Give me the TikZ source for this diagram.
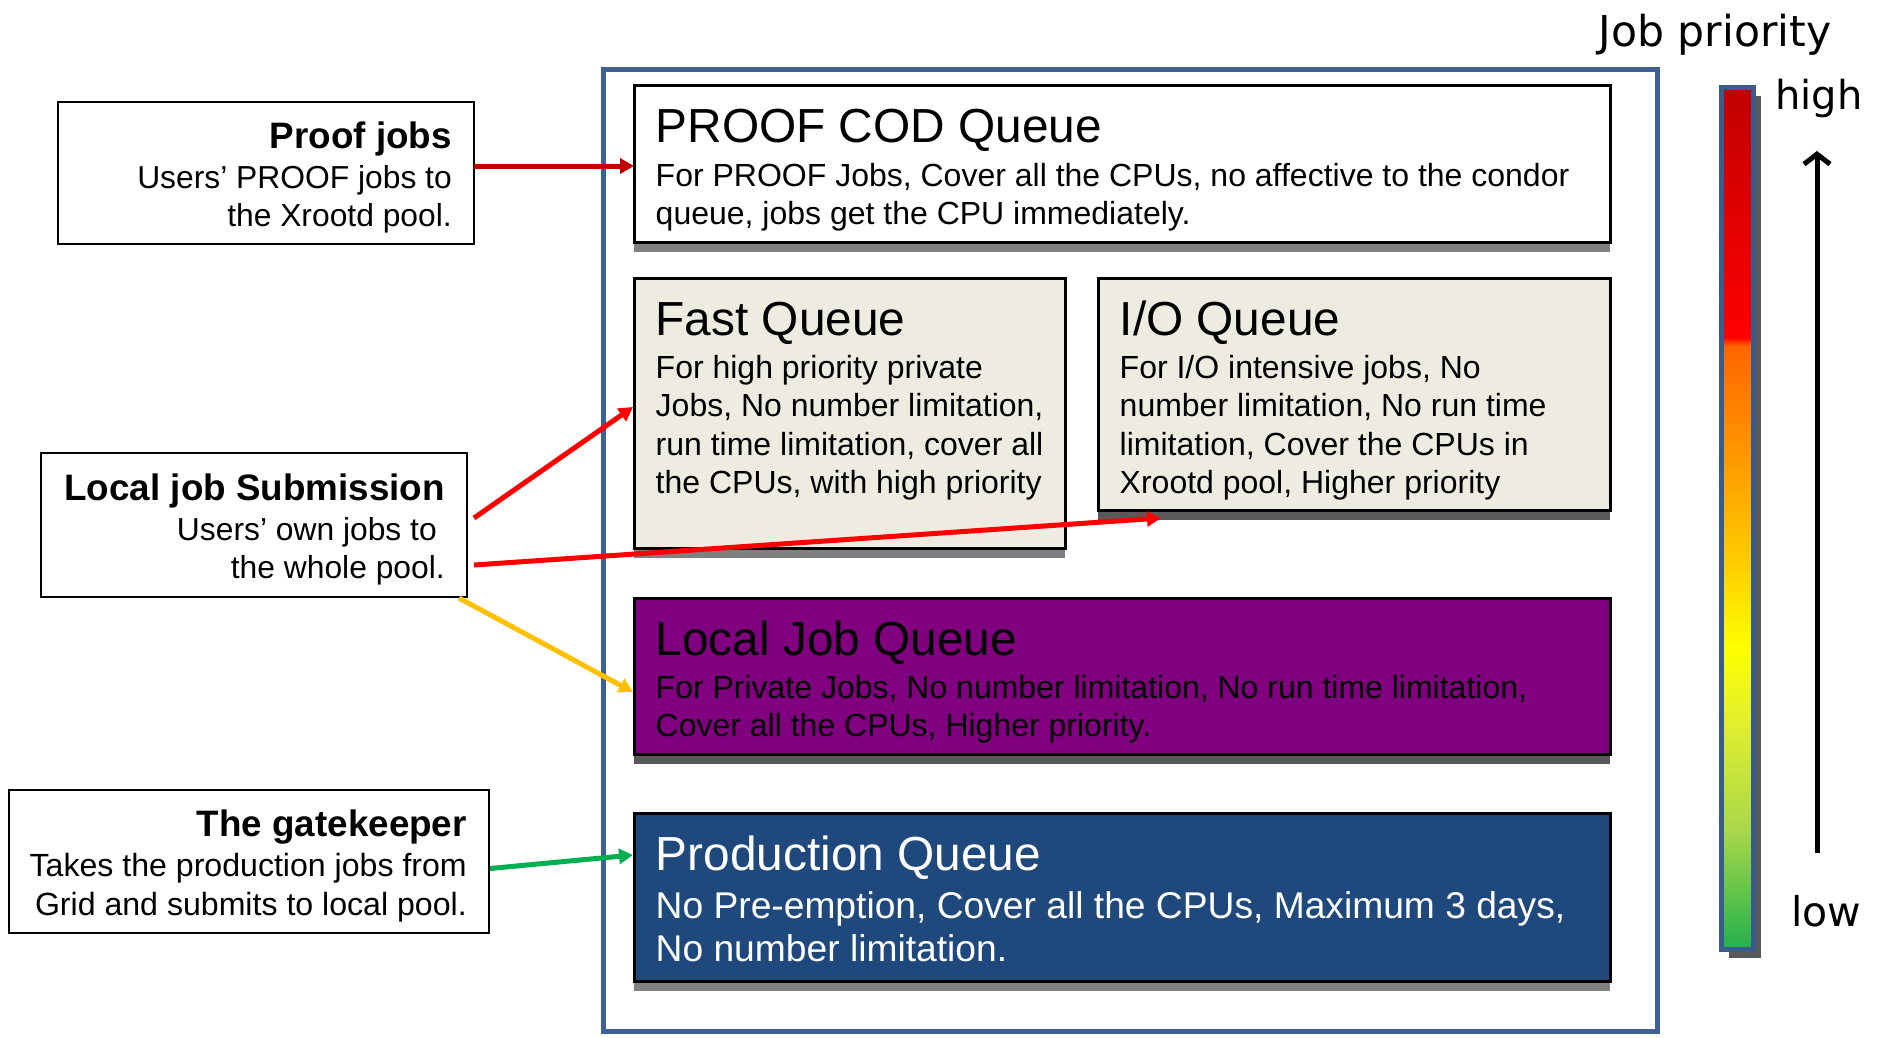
\documentclass[tikz,border=0pt]{standalone}
\usepackage{fontspec}
\setmainfont{Liberation Sans}
\newfontfamily\prioFont{DejaVu Sans}
\usetikzlibrary{arrows.meta,shadows}

\definecolor{frameblue}{RGB}{62,96,146}
\definecolor{barblue}{RGB}{58,92,140}
\definecolor{tanfill}{RGB}{238,236,225}
\definecolor{queuepurple}{RGB}{128,0,128}
\definecolor{prodblue}{RGB}{31,73,125}
\definecolor{darkred}{RGB}{192,0,0}
\definecolor{arrowred}{RGB}{255,0,0}
\definecolor{arrowamber}{RGB}{255,192,0}
\definecolor{arrowgreen}{RGB}{0,176,80}
\definecolor{shadelight}{RGB}{128,128,128}
\definecolor{shadedark}{RGB}{89,89,89}
% priority scale colours, bottom to top
\definecolor{pg0}{RGB}{34,177,76}
\definecolor{pg1}{RGB}{170,216,74}
\definecolor{pg2}{RGB}{224,238,48}
\definecolor{pg3}{RGB}{255,255,0}
\definecolor{pg4}{RGB}{255,204,0}
\definecolor{pg5}{RGB}{255,153,0}
\definecolor{pg6}{RGB}{255,102,0}
\definecolor{pg7}{RGB}{255,0,0}
\definecolor{pg8}{RGB}{221,0,0}
\definecolor{pg9}{RGB}{192,0,0}

\pgfdeclareverticalshading{priograd}{100bp}{%
  color(0bp)=(pg0); color(25bp)=(pg0); color(32bp)=(pg1);
  color(38bp)=(pg2); color(42.5bp)=(pg3); color(47.5bp)=(pg4);
  color(53.5bp)=(pg5); color(60bp)=(pg6); color(60.5bp)=(pg7);
  color(68.5bp)=(pg8); color(75bp)=(pg9); color(100bp)=(pg9)}

\tikzset{
  queuebox/.style={draw=black, line width=3pt, anchor=north west,
    inner sep=0pt, outer sep=0pt},
  shadowlight/.style={drop shadow={shadow xshift=0pt, shadow yshift=-10pt,
    opacity=1, fill=shadelight}},
  shadowdark/.style={drop shadow={shadow xshift=0pt, shadow yshift=-10pt,
    opacity=1, fill=shadedark}},
  srcbox/.style={draw=black, line width=2.5pt, fill=white, anchor=north west,
    inner sep=0pt, outer sep=0pt},
  qtitle/.style={anchor=base west, inner sep=0pt,
    font=\fontsize{47.8}{52}\selectfont},
  qbody/.style={anchor=base west, inner sep=0pt,
    font=\fontsize{32}{36}\selectfont},
  pbody/.style={anchor=base west, inner sep=0pt,
    font=\fontsize{37.2}{42}\selectfont},
  stitle/.style={anchor=base east, inner sep=0pt,
    font=\bfseries\fontsize{36.8}{40}\selectfont},
  sbody/.style={anchor=base east, inner sep=0pt,
    font=\fontsize{31.8}{36}\selectfont},
  feed/.style={line width=5pt, -{Triangle[length=14pt,width=15pt]}},
}

\begin{document}
\begin{tikzpicture}[x=1pt, y=-1pt]
\useasboundingbox (0,0) rectangle (1881,1037);

% the pool frame
\node[draw=frameblue, line width=5pt, minimum width=1054pt,
  minimum height=962pt, anchor=north west, inner sep=0pt, outer sep=0pt]
  (pool) at (603.5,69.5) {};

% queues
\node[queuebox, shadowlight, fill=white, minimum width=976pt,
  minimum height=157pt] (cod) at (634,85) {};
\node[qtitle] (codt) at ([shift={(21.5,57)}]cod.north west) {PROOF COD Queue};
\node[qbody] (codb1) at ([shift={(21.5,101)}]cod.north west)
  {For PROOF Jobs, Cover all the CPUs, no affective to the condor};
\node[qbody] (codb2) at ([shift={(21.5,139.5)}]cod.north west)
  {queue, jobs get the CPU immediately.};

\node[queuebox, shadowlight, fill=tanfill, minimum width=431pt,
  minimum height=270pt] (fast) at (634,278) {};
\node[qtitle] (fastt) at ([shift={(21.5,57)}]fast.north west) {Fast Queue};
\node[qbody] (fastb1) at ([shift={(21.5,100)}]fast.north west)
  {For high priority private};
\node[qbody] (fastb2) at ([shift={(21.5,138.5)}]fast.north west)
  {Jobs, No number limitation,};
\node[qbody] (fastb3) at ([shift={(21.5,177)}]fast.north west)
  {run time limitation, cover all};
\node[qbody] (fastb4) at ([shift={(21.5,215)}]fast.north west)
  {the CPUs, with high priority};

\node[queuebox, shadowdark, fill=tanfill, minimum width=512pt,
  minimum height=232pt] (io) at (1098,278) {};
\node[qtitle] (iot) at ([shift={(21.5,57)}]io.north west) {I/O Queue};
\node[qbody] (iob1) at ([shift={(21.5,100)}]io.north west)
  {For I/O intensive jobs, No};
\node[qbody] (iob2) at ([shift={(21.5,138.5)}]io.north west)
  {number limitation, No run time};
\node[qbody] (iob3) at ([shift={(21.5,177)}]io.north west)
  {limitation, Cover the CPUs in};
\node[qbody] (iob4) at ([shift={(21.5,215)}]io.north west)
  {Xrootd pool, Higher priority};

\node[queuebox, shadowdark, fill=queuepurple, minimum width=976pt,
  minimum height=156pt] (localq) at (634,598) {};
\node[qtitle] (localqt) at ([shift={(21.5,57)}]localq.north west)
  {Local Job Queue};
\node[qbody] (localqb1) at ([shift={(21.5,100)}]localq.north west)
  {For Private Jobs, No number limitation, No run time limitation,};
\node[qbody] (localqb2) at ([shift={(21.5,138.5)}]localq.north west)
  {Cover all the CPUs, Higher priority.};

\node[queuebox, shadowlight, fill=prodblue, minimum width=976pt,
  minimum height=168pt] (prod) at (634,813) {};
\node[qtitle, text=white] (prodt) at ([shift={(21.5,57)}]prod.north west)
  {Production Queue};
\node[pbody, text=white] (prodb1) at ([shift={(21.5,105)}]prod.north west)
  {No Pre-emption, Cover all the CPUs, Maximum 3 days,};
\node[pbody, text=white] (prodb2) at ([shift={(21.5,148)}]prod.north west)
  {No number limitation.};

% job sources
\node[srcbox, minimum width=416pt, minimum height=142pt] (proofjobs)
  at (58,102) {};
\node[stitle] (proofjobst) at ([shift={(-22,46)}]proofjobs.north east)
  {Proof jobs};
\node[sbody] (proofjobsb1) at ([shift={(-22,86)}]proofjobs.north east)
  {Users’ PROOF jobs to};
\node[sbody] (proofjobsb2) at ([shift={(-22,124)}]proofjobs.north east)
  {the Xrootd pool.};

\node[srcbox, minimum width=426pt, minimum height=144pt] (localsub)
  at (41,453) {};
\node[stitle] (localsubt) at ([shift={(-22,47.5)}]localsub.north east)
  {Local job Submission};
\node[sbody] (localsubb1) at ([shift={(-30,87)}]localsub.north east)
  {Users’ own jobs to};
\node[sbody] (localsubb2) at ([shift={(-22,125)}]localsub.north east)
  {the whole pool.};

\node[srcbox, minimum width=480pt, minimum height=143pt] (gate)
  at (9,790) {};
\node[stitle] (gatet) at ([shift={(-22,46.7)}]gate.north east)
  {The gatekeeper};
\node[sbody, font=\fontsize{32.1}{36}\selectfont] (gateb1)
  at ([shift={(-22,86.7)}]gate.north east)
  {Takes the production jobs from};
\node[sbody, font=\fontsize{32.1}{36}\selectfont] (gateb2)
  at ([shift={(-22,125)}]gate.north east)
  {Grid and submits to local pool.};

% submission paths
\draw[feed, darkred] ([yshift=-2.5pt]proofjobs.east |- cod.west)
  -- ([yshift=-2.5pt]cod.west);
\draw[feed, arrowred] ([shift={(7,-7)}]localsub.east)
  -- ([shift={(-1,129)}]fast.north west);
\draw[feed, arrowred] ([shift={(7,40)}]localsub.east)
  -- ([shift={(63,8)}]io.south west);
\draw[feed, arrowamber] ([shift={(-8,1)}]localsub.south east)
  -- ([shift={(-1,94)}]localq.north west);
\draw[feed, arrowgreen] ([shift={(1,7)}]gate.east)
  -- ([shift={(-1,42)}]prod.north west);

% priority scale
\node[font=\prioFont\fontsize{42.6}{46}\selectfont, anchor=base,
  inner sep=0pt] (jobprio) at (1715,46) {Job priority};
\node[draw=barblue, line width=5pt, shading=priograd, minimum width=32pt,
  minimum height=862pt, anchor=north west, inner sep=0pt, outer sep=0pt,
  drop shadow={shadow xshift=7pt, shadow yshift=-8pt, opacity=1,
  fill=shadedark}] (prioritybar) at (1721.5,87.5) {};
\node[font=\prioFont\fontsize{40}{44}\selectfont, anchor=base west,
  inner sep=0pt] (high) at (1775,109) {high};
\node[font=\prioFont\fontsize{41}{44}\selectfont, anchor=base west,
  inner sep=0pt] (low) at (1791,926) {low};
\coordinate (lowpt) at (1817,853);
\coordinate (highpt) at (1817,151);
\draw[line width=5pt, -{Straight Barb[length=10pt,width=26pt]}]
  (lowpt) -- (highpt);
\end{tikzpicture}
\end{document}
